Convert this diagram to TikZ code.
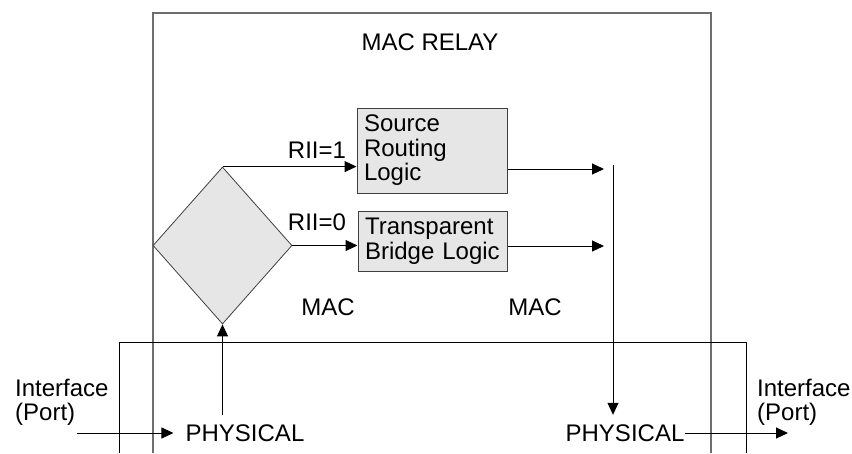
\documentclass[tikz,border=0pt]{standalone}
\usepackage{fontspec}
\setmainfont{Liberation Sans}
\usetikzlibrary{shapes.geometric,arrows.meta}
\definecolor{boxfill}{HTML}{E6E6E6}
\definecolor{frame}{HTML}{6E6E6E}
\definecolor{edge}{HTML}{404040}
\tikzset{
  lbl/.style={inner sep=0pt, font=\fontsize{24}{24.5}\selectfont},
  logicbox/.style={draw=edge, fill=boxfill, line width=1pt, rectangle, align=left,
    inner sep=0pt, font=\fontsize{24}{24.5}\selectfont},
  phys/.style={inner xsep=0pt, inner ysep=9.5pt, font=\fontsize{24}{24.5}\selectfont},
  arr/.style={line width=1pt, -{Triangle[length=12pt,width=11pt]}},
  ln/.style={line width=1pt},
}
\begin{document}
\begin{tikzpicture}[x=1pt,y=-1pt]
\useasboundingbox (0,0) rectangle (852,453);
% frames
\draw[frame, line width=1.4pt] (153,453) -- (153,13) -- (711,13) -- (711,453);
\draw[ln] (119,453) -- (119,342) -- (746,342) -- (746,453);
% labels
\node[lbl] (relay) at (430,42) {MAC RELAY};
\node[lbl] (macL) at (328,307) {MAC};
\node[lbl] (macR) at (535,307) {MAC};
\node[lbl] (r1) at (317,150) {RII=1};
\node[lbl] (r0) at (317,222) {RII=0};
% decision
\node[diamond, draw=edge, fill=boxfill, line width=0.8pt, inner sep=0pt,
      minimum width=139pt, minimum height=157pt] (dec) at (222.5,245.5) {};
% logic boxes
\node[logicbox, minimum width=150pt, minimum height=85pt, text width=136pt] (src) at (432,150.5) {Source\\Routing\\Logic};
\node[logicbox, minimum width=149pt, minimum height=60pt, text width=135pt] (tb) at (432.5,241) {Transparent\\Bridge Logic};
% physical
\node[phys] (physL) at (245,433) {PHYSICAL};
\node[phys] (physR) at (625,433) {PHYSICAL};
\node[lbl, align=left, anchor=west] (ifL) at (15,402.5) {Interface\\(Port)};
\node[lbl, align=left, anchor=west] (ifR) at (757,402.5) {Interface\\(Port)};
% coordinates
\coordinate (o1) at (604,169);
\coordinate (o2) at (604,246);
\coordinate (v) at (613,165);
\coordinate (inL) at (77,433);
\coordinate (outR) at (788,433);
% connectors
\draw[arr] (dec.north) -- (dec.north -| src.west);
\draw[arr] (dec.east) -- (dec.east -| tb.west);
\draw[arr] (o1 -| src.east) -- (o1);
\draw[arr] (o2 -| tb.east) -- (o2);
\draw[arr] (v) -- (v |- physR.north);
\draw[arr] (physL.north -| dec.south) -- (dec.south);
\draw[arr] (inL) -- ([xshift=-12pt]physL.west);
\draw[arr] (physR.east) -- (outR);
\end{tikzpicture}
\end{document}
